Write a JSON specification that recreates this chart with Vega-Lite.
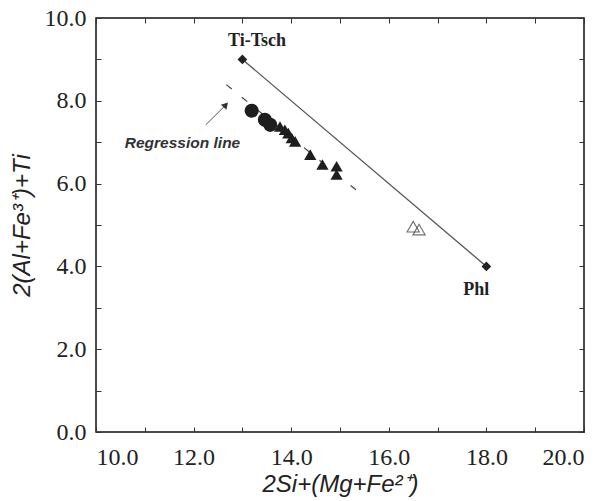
{
  "$schema": "https://vega.github.io/schema/vega-lite/v6.json",
  "width": 488,
  "height": 414,
  "autosize": {"type": "none"},
  "padding": {"left": 96, "top": 18, "right": 26, "bottom": 69},
  "background": "white",
  "config": {
    "view": {"stroke": "#111", "strokeWidth": 1.5},
    "axis": {
      "grid": false,
      "domain": false,
      "zindex": 1,
      "labelFont": "Liberation Serif",
      "labelFontSize": 24,
      "labelColor": "#222",
      "titleFont": "Liberation Sans",
      "titleFontStyle": "italic",
      "titleFontWeight": "normal",
      "titleFontSize": 24,
      "titleColor": "#222"
    }
  },
  "datasets": {
    "samples": [
      {"x": 13.19, "y": 7.76, "group": "circle"},
      {"x": 13.46, "y": 7.54, "group": "circle"},
      {"x": 13.57, "y": 7.42, "group": "circle"},
      {"x": 13.77, "y": 7.38, "group": "triangle"},
      {"x": 13.87, "y": 7.30, "group": "triangle"},
      {"x": 13.94, "y": 7.22, "group": "triangle"},
      {"x": 14.01, "y": 7.10, "group": "triangle"},
      {"x": 14.08, "y": 7.02, "group": "triangle"},
      {"x": 14.39, "y": 6.70, "group": "triangle"},
      {"x": 14.64, "y": 6.46, "group": "triangle"},
      {"x": 14.93, "y": 6.42, "group": "triangle"},
      {"x": 14.93, "y": 6.22, "group": "triangle"}
    ],
    "open": [
      {"x": 16.50, "y": 4.96},
      {"x": 16.62, "y": 4.89}
    ],
    "endmembers": [
      {"x": 13.0, "y": 9.0, "name": "Ti-Tsch", "lx": 13.3, "ly": 9.44},
      {"x": 18.0, "y": 4.0, "name": "Phl", "lx": 17.79, "ly": 3.43}
    ],
    "regression": [
      {"x": 12.67, "y": 8.39},
      {"x": 15.37, "y": 5.81}
    ],
    "arrow": [
      {"x": 12.25, "y": 7.42, "part": "tail"},
      {"x": 12.66, "y": 7.90, "part": "head"}
    ]
  },
  "layer": [
    {
      "data": {"name": "endmembers"},
      "mark": {"type": "line", "color": "#555", "strokeWidth": 1.3},
      "encoding": {
        "x": {
          "field": "x", "type": "quantitative",
          "scale": {"domain": [10, 20], "nice": false, "zero": false},
          "axis": {
            "values": [10, 12, 14, 16, 18, 20],
            "format": ".1f",
            "ticks": false,
            "title": "2Si+(Mg+Fe²⁺)",
            "labelPadding": 13,
            "titlePadding": 3
          }
        },
        "y": {
          "field": "y", "type": "quantitative",
          "scale": {"domain": [0, 10], "nice": false, "zero": false},
          "axis": {
            "values": [0, 2, 4, 6, 8, 10],
            "format": ".1f",
            "ticks": false,
            "title": "2(Al+Fe³⁺)+Ti",
            "labelPadding": 10,
            "titlePadding": 10
          }
        }
      }
    },
    {
      "data": {"name": "endmembers"},
      "mark": {"type": "line", "opacity": 0},
      "encoding": {
        "x": {
          "field": "x", "type": "quantitative",
          "axis": {"orient": "top", "offset": -5, "ticks": true, "tickSize": 5, "tickColor": "#333", "tickWidth": 1, "values": [10, 11, 12, 13, 14, 15, 16, 17, 18, 19, 20], "labels": false, "title": null}
        },
        "y": {
          "field": "y", "type": "quantitative",
          "axis": {"orient": "right", "offset": -5, "ticks": true, "tickSize": 5, "tickColor": "#333", "tickWidth": 1, "values": [0, 1, 2, 3, 4, 5, 6, 7, 8, 9, 10], "labels": false, "title": null}
        }
      }
    },
    {
      "data": {"name": "endmembers"},
      "mark": {"type": "line", "opacity": 0},
      "encoding": {
        "x": {
          "field": "x", "type": "quantitative",
          "axis": {"orient": "bottom", "offset": -5, "ticks": true, "tickSize": 5, "tickColor": "#333", "tickWidth": 1, "values": [10, 11, 12, 13, 14, 15, 16, 17, 18, 19, 20], "labels": false, "title": null}
        },
        "y": {
          "field": "y", "type": "quantitative",
          "axis": {"orient": "left", "offset": -5, "ticks": true, "tickSize": 5, "tickColor": "#333", "tickWidth": 1, "values": [0, 1, 2, 3, 4, 5, 6, 7, 8, 9, 10], "labels": false, "title": null}
        }
      }
    },
    {
      "data": {"name": "regression"},
      "mark": {"type": "line", "color": "#444", "strokeWidth": 1.2, "strokeDash": [7, 13]},
      "encoding": {
        "x": {"field": "x", "type": "quantitative", "axis": null},
        "y": {"field": "y", "type": "quantitative", "axis": null}
      }
    },
    {
      "data": {"name": "arrow"},
      "mark": {"type": "line", "color": "#555", "strokeWidth": 1},
      "encoding": {
        "x": {"field": "x", "type": "quantitative", "axis": null},
        "y": {"field": "y", "type": "quantitative", "axis": null}
      }
    },
    {
      "data": {"name": "arrow"},
      "transform": [{"filter": "datum.part == 'head'"}],
      "mark": {"type": "point", "shape": "triangle-up", "filled": true, "color": "#333", "size": 55, "angle": 42, "opacity": 1},
      "encoding": {
        "x": {"field": "x", "type": "quantitative", "axis": null},
        "y": {"field": "y", "type": "quantitative", "axis": null}
      }
    },
    {
      "data": {"name": "samples"},
      "mark": {"type": "point", "filled": true, "color": "#1e1e1e", "opacity": 1},
      "encoding": {
        "x": {"field": "x", "type": "quantitative", "axis": null},
        "y": {"field": "y", "type": "quantitative", "axis": null},
        "shape": {
          "field": "group", "type": "nominal",
          "scale": {"domain": ["circle", "triangle"], "range": ["circle", "triangle-up"]},
          "legend": null
        },
        "size": {
          "field": "group", "type": "nominal",
          "scale": {"domain": ["circle", "triangle"], "range": [200, 150]},
          "legend": null
        }
      }
    },
    {
      "data": {"name": "open"},
      "mark": {"type": "point", "shape": "triangle-up", "filled": false, "color": "#333", "size": 150, "strokeWidth": 1.1},
      "encoding": {
        "x": {"field": "x", "type": "quantitative", "axis": null},
        "y": {"field": "y", "type": "quantitative", "axis": null}
      }
    },
    {
      "data": {"name": "endmembers"},
      "mark": {"type": "point", "shape": "diamond", "filled": true, "color": "#222", "size": 95, "opacity": 1},
      "encoding": {
        "x": {"field": "x", "type": "quantitative", "axis": null},
        "y": {"field": "y", "type": "quantitative", "axis": null}
      }
    },
    {
      "data": {"name": "endmembers"},
      "mark": {"type": "text", "font": "Liberation Serif", "fontSize": 18, "fontWeight": "bold", "color": "#222"},
      "encoding": {
        "x": {"field": "lx", "type": "quantitative", "axis": null},
        "y": {"field": "ly", "type": "quantitative", "axis": null},
        "text": {"field": "name"}
      }
    },
    {
      "data": {"values": [{"x": 10.59, "y": 6.98, "label": "Regression line"}]},
      "mark": {"type": "text", "align": "left", "font": "Liberation Sans", "fontSize": 15.5, "fontStyle": "italic", "fontWeight": "bold", "color": "#333"},
      "encoding": {
        "x": {"field": "x", "type": "quantitative", "axis": null},
        "y": {"field": "y", "type": "quantitative", "axis": null},
        "text": {"field": "label"}
      }
    }
  ],
  "resolve": {"axis": {"x": "independent", "y": "independent"}}
}
